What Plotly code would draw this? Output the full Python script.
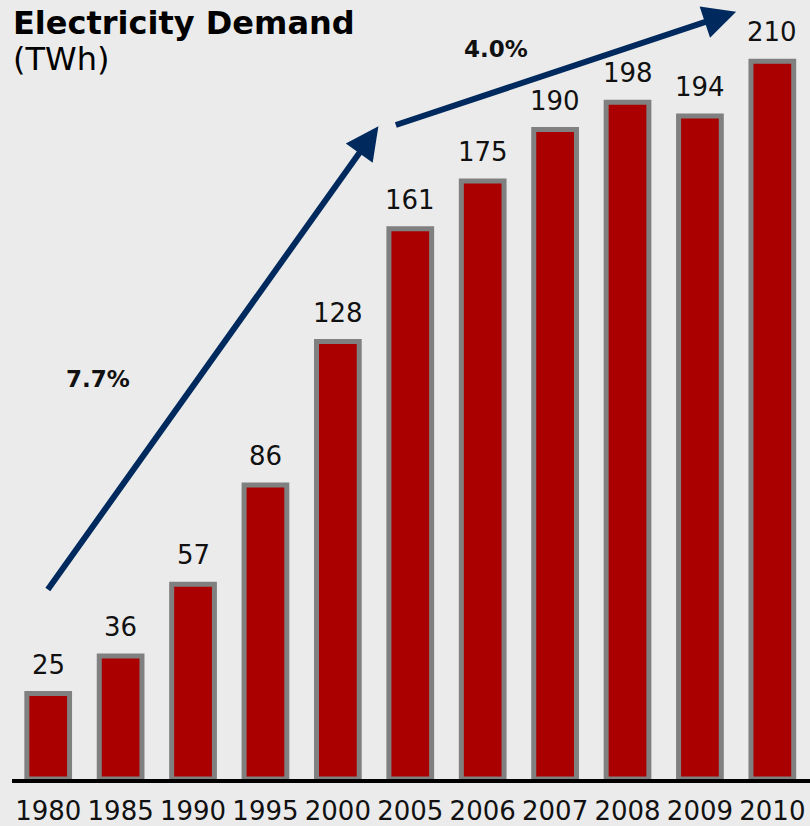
import plotly.graph_objects as go

years = ["1980", "1985", "1990", "1995", "2000", "2005", "2006", "2007", "2008", "2009", "2010"]
demand = [25, 36, 57, 86, 128, 161, 175, 190, 198, 194, 210]

growth_labels = ["7.7%", "4.0%"]

BG = "#EBEBEB"
NAVY = "#002A5E"
FONT = "DejaVu Sans"

fig = go.Figure()
fig.add_trace(go.Bar(
    x=list(range(len(years))),
    y=demand,
    width=0.59,
    marker=dict(color="#AA0000", line=dict(color="#808080", width=5)),
    hoverinfo="skip",
))

annotations = []
for i, v in enumerate(demand):
    annotations.append(dict(
        x=i, y=v, xref="x", yref="y", text=str(v), showarrow=False,
        yanchor="bottom", yshift=12, font=dict(family=FONT, size=26, color="#111111"),
    ))

# growth arrows (period 1980-2005 and 2005-2010)
annotations.append(dict(
    x=4.56, y=191, ax=-0.02, ay=55, xref="x", yref="y", axref="x", ayref="y",
    text="", showarrow=True, arrowhead=2, arrowsize=1.1, arrowwidth=6, arrowcolor=NAVY,
    standoff=0, startstandoff=0,
))
annotations.append(dict(
    x=9.5, y=224.5, ax=4.78, ay=191.2, xref="x", yref="y", axref="x", ayref="y",
    text="", showarrow=True, arrowhead=2, arrowsize=1.1, arrowwidth=6, arrowcolor=NAVY,
    standoff=0, startstandoff=0,
))
annotations.append(dict(
    x=0.69, y=117, xref="x", yref="y", text="<b>%s</b>" % growth_labels[0], showarrow=False,
    font=dict(family=FONT, size=23, color="#111111"),
))
annotations.append(dict(
    x=6.19, y=213.5, xref="x", yref="y", text="<b>%s</b>" % growth_labels[1], showarrow=False,
    font=dict(family=FONT, size=23, color="#111111"),
))
annotations.append(dict(
    x=0, y=1, xref="paper", yref="paper", xanchor="left", yanchor="top", xshift=-1, yshift=8,
    align="left", showarrow=False,
    text="<b>Electricity Demand</b>",
    font=dict(family=FONT, size=32, color="#000000"),
))
annotations.append(dict(
    x=0, y=1, xref="paper", yref="paper", xanchor="left", yanchor="top", xshift=-1, yshift=-28,
    align="left", showarrow=False,
    text="(TWh)",
    font=dict(family=FONT, size=32, color="#000000"),
))

fig.update_layout(
    width=810, height=826,
    margin=dict(l=12, r=0, t=10, b=47, autoexpand=False),
    paper_bgcolor=BG, plot_bgcolor=BG,
    showlegend=False,
    annotations=annotations,
    xaxis=dict(
        tickmode="array", tickvals=list(range(len(years))), ticktext=years,
        range=[-0.5, 10.52], showgrid=False, zeroline=False,
        showline=True, linecolor="#000000", linewidth=4, ticks="",
        ticklabelstandoff=6, automargin=False,
        tickfont=dict(family=FONT, size=26, color="#111111"),
    ),
    yaxis=dict(range=[0, 225], visible=False, showgrid=False, zeroline=False),
)

fig.write_html("out.html", config={"displayModeBar": False},
               post_script="document.body.style.margin='0';")
